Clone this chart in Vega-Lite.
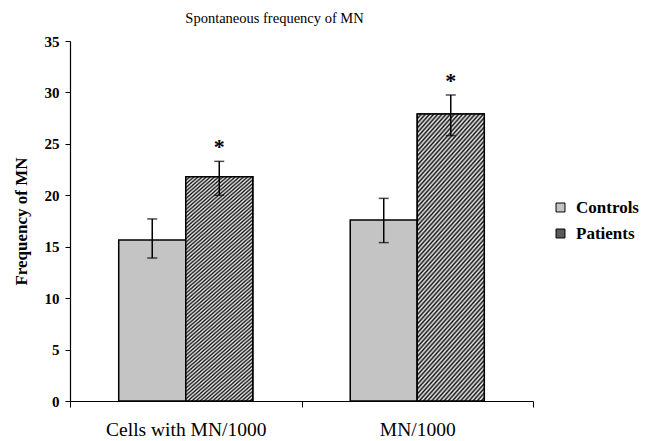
{
  "$schema": "https://vega.github.io/schema/vega-lite/v6.json",
  "width": 463,
  "height": 360,
  "autosize": {"type": "none"},
  "padding": {"left": 70, "top": 41, "right": 123, "bottom": 40},
  "background": "white",
  "title": {
    "text": "Spontaneous frequency of MN",
    "anchor": "middle",
    "dx": -27,
    "offset": 8
  },
  "config": {
    "view": {"stroke": null},
    "font": "Liberation Serif",
    "title": {"font": "Liberation Serif", "fontSize": 14.5, "fontWeight": "normal", "color": "black"},
    "axis": {"labelFont": "Liberation Serif", "titleFont": "Liberation Serif", "labelColor": "black", "titleColor": "black"},
    "legend": {"labelFont": "Liberation Serif", "titleFont": "Liberation Serif", "labelColor": "black"},
    "text": {"font": "Liberation Serif"}
  },
  "data": {
    "values": [
      {"cat": "Cells with MN/1000", "group": "Controls", "mean": 15.65, "lo": 13.9, "hi": 17.7, "star": ""},
      {"cat": "Cells with MN/1000", "group": "Patients", "mean": 21.8, "lo": 20.0, "hi": 23.3, "star": "*"},
      {"cat": "MN/1000", "group": "Controls", "mean": 17.6, "lo": 15.4, "hi": 19.7, "star": ""},
      {"cat": "MN/1000", "group": "Patients", "mean": 27.9, "lo": 25.8, "hi": 29.75, "star": "*"}
    ]
  },
  "encoding": {
    "x": {
      "field": "cat",
      "type": "nominal",
      "sort": null,
      "scale": {"paddingInner": 0, "paddingOuter": 0},
      "axis": {
        "title": null,
        "labelAngle": 0,
        "labelFont": "Liberation Serif",
        "labelFontSize": 19.5,
        "labelColor": "black",
        "labelPadding": 13,
        "domainColor": "black",
        "domainWidth": 1.2,
        "tickColor": "black",
        "tickBand": "extent",
        "tickSize": 6
      }
    },
    "xOffset": {
      "field": "group",
      "type": "nominal",
      "sort": ["Controls", "Patients"],
      "scale": {"paddingInner": 0, "paddingOuter": 0.727}
    }
  },
  "layer": [
    {
      "mark": {"type": "bar", "stroke": "black", "strokeWidth": 1.5},
      "encoding": {
        "y": {
          "field": "mean",
          "type": "quantitative",
          "scale": {"domain": [0, 35]},
          "axis": {
            "title": "Frequency of MN",
            "titleFont": "Liberation Serif",
            "titleFontSize": 17,
            "titleFontWeight": "bold",
            "titleColor": "black",
            "titlePadding": 14,
            "values": [0, 5, 10, 15, 20, 25, 30, 35],
            "labelFont": "Liberation Serif",
            "labelFontSize": 15,
            "labelFontWeight": "bold",
            "labelColor": "black",
            "labelPadding": 6,
            "grid": false,
            "domainColor": "black",
            "domainWidth": 1.2,
            "tickColor": "black",
            "tickSize": 5
          }
        },
        "color": {
          "field": "group",
          "type": "nominal",
          "scale": {"domain": ["Controls", "Patients"], "range": ["#c4c4c4", "#5a5a5a"]},
          "legend": {
            "title": null,
            "orient": "none",
            "legendX": 482,
            "legendY": 158,
            "symbolType": "square",
            "symbolSize": 80,
            "symbolStrokeColor": "black",
            "symbolStrokeWidth": 1,
            "labelFont": "Liberation Serif",
            "labelFontSize": 17,
            "labelFontWeight": "bold",
            "labelColor": "black",
            "rowPadding": 8,
            "labelOffset": 7
          }
        }
      }
    },
    {
      "transform": [{"filter": "datum.group === 'Patients'"}],
      "mark": {
        "type": "bar",
        "stroke": "black",
        "strokeWidth": 1.5,
        "fill": {
          "gradient": "linear",
          "x1": 0, "y1": 0, "x2": 1, "y2": 3.8,
          "stops": [
            {"offset": 0, "color": "#111"}, {"offset": 0.002, "color": "#eee"}, {"offset": 0.004, "color": "#111"}, {"offset": 0.006, "color": "#eee"}, {"offset": 0.008, "color": "#111"}, {"offset": 0.010, "color": "#eee"}, {"offset": 0.012, "color": "#111"}, {"offset": 0.014, "color": "#eee"}, {"offset": 0.016, "color": "#111"}, {"offset": 0.018, "color": "#eee"},
            {"offset": 0.020, "color": "#111"}, {"offset": 0.022, "color": "#eee"}, {"offset": 0.024, "color": "#111"}, {"offset": 0.026, "color": "#eee"}, {"offset": 0.028, "color": "#111"}, {"offset": 0.030, "color": "#eee"}, {"offset": 0.032, "color": "#111"}, {"offset": 0.034, "color": "#eee"}, {"offset": 0.036, "color": "#111"}, {"offset": 0.038, "color": "#eee"},
            {"offset": 0.040, "color": "#111"}, {"offset": 0.042, "color": "#eee"}, {"offset": 0.044, "color": "#111"}, {"offset": 0.046, "color": "#eee"}, {"offset": 0.048, "color": "#111"}, {"offset": 0.050, "color": "#eee"}, {"offset": 0.052, "color": "#111"}, {"offset": 0.054, "color": "#eee"}, {"offset": 0.056, "color": "#111"}, {"offset": 0.058, "color": "#eee"},
            {"offset": 0.060, "color": "#111"}, {"offset": 0.062, "color": "#eee"}, {"offset": 0.064, "color": "#111"}, {"offset": 0.066, "color": "#eee"}, {"offset": 0.068, "color": "#111"}, {"offset": 0.070, "color": "#eee"}, {"offset": 0.072, "color": "#111"}, {"offset": 0.074, "color": "#eee"}, {"offset": 0.076, "color": "#111"}, {"offset": 0.078, "color": "#eee"},
            {"offset": 0.080, "color": "#111"}, {"offset": 0.082, "color": "#eee"}, {"offset": 0.084, "color": "#111"}, {"offset": 0.086, "color": "#eee"}, {"offset": 0.088, "color": "#111"}, {"offset": 0.090, "color": "#eee"}, {"offset": 0.092, "color": "#111"}, {"offset": 0.094, "color": "#eee"}, {"offset": 0.096, "color": "#111"}, {"offset": 0.098, "color": "#eee"},
            {"offset": 0.100, "color": "#111"}, {"offset": 0.102, "color": "#eee"}, {"offset": 0.104, "color": "#111"}, {"offset": 0.106, "color": "#eee"}, {"offset": 0.108, "color": "#111"}, {"offset": 0.110, "color": "#eee"}, {"offset": 0.112, "color": "#111"}, {"offset": 0.114, "color": "#eee"}, {"offset": 0.116, "color": "#111"}, {"offset": 0.118, "color": "#eee"},
            {"offset": 0.120, "color": "#111"}, {"offset": 0.122, "color": "#eee"}, {"offset": 0.124, "color": "#111"}, {"offset": 0.126, "color": "#eee"}, {"offset": 0.128, "color": "#111"}, {"offset": 0.130, "color": "#eee"}, {"offset": 0.132, "color": "#111"}, {"offset": 0.134, "color": "#eee"}, {"offset": 0.136, "color": "#111"}, {"offset": 0.138, "color": "#eee"},
            {"offset": 0.140, "color": "#111"}, {"offset": 0.142, "color": "#eee"}, {"offset": 0.144, "color": "#111"}, {"offset": 0.146, "color": "#eee"}, {"offset": 0.148, "color": "#111"}, {"offset": 0.150, "color": "#eee"}, {"offset": 0.152, "color": "#111"}, {"offset": 0.154, "color": "#eee"}, {"offset": 0.156, "color": "#111"}, {"offset": 0.158, "color": "#eee"},
            {"offset": 0.160, "color": "#111"}, {"offset": 0.162, "color": "#eee"}, {"offset": 0.164, "color": "#111"}, {"offset": 0.166, "color": "#eee"}, {"offset": 0.168, "color": "#111"}, {"offset": 0.170, "color": "#eee"}, {"offset": 0.172, "color": "#111"}, {"offset": 0.174, "color": "#eee"}, {"offset": 0.176, "color": "#111"}, {"offset": 0.178, "color": "#eee"},
            {"offset": 0.180, "color": "#111"}, {"offset": 0.182, "color": "#eee"}, {"offset": 0.184, "color": "#111"}, {"offset": 0.186, "color": "#eee"}, {"offset": 0.188, "color": "#111"}, {"offset": 0.190, "color": "#eee"}, {"offset": 0.192, "color": "#111"}, {"offset": 0.194, "color": "#eee"}, {"offset": 0.196, "color": "#111"}, {"offset": 0.198, "color": "#eee"},
            {"offset": 0.200, "color": "#111"}, {"offset": 0.202, "color": "#eee"}, {"offset": 0.204, "color": "#111"}, {"offset": 0.206, "color": "#eee"}, {"offset": 0.208, "color": "#111"}, {"offset": 0.210, "color": "#eee"}, {"offset": 0.212, "color": "#111"}, {"offset": 0.214, "color": "#eee"}, {"offset": 0.216, "color": "#111"}, {"offset": 0.218, "color": "#eee"},
            {"offset": 0.220, "color": "#111"}, {"offset": 0.222, "color": "#eee"}, {"offset": 0.224, "color": "#111"}, {"offset": 0.226, "color": "#eee"}, {"offset": 0.228, "color": "#111"}, {"offset": 0.230, "color": "#eee"}, {"offset": 0.232, "color": "#111"}, {"offset": 0.234, "color": "#eee"}, {"offset": 0.236, "color": "#111"}, {"offset": 0.238, "color": "#eee"},
            {"offset": 0.240, "color": "#111"}, {"offset": 0.242, "color": "#eee"}, {"offset": 0.244, "color": "#111"}, {"offset": 0.246, "color": "#eee"}, {"offset": 0.248, "color": "#111"}, {"offset": 0.250, "color": "#eee"}, {"offset": 0.252, "color": "#111"}, {"offset": 0.254, "color": "#eee"}, {"offset": 0.256, "color": "#111"}, {"offset": 0.258, "color": "#eee"},
            {"offset": 0.260, "color": "#111"}, {"offset": 0.262, "color": "#eee"}, {"offset": 0.264, "color": "#111"}, {"offset": 0.266, "color": "#eee"}, {"offset": 0.268, "color": "#111"}, {"offset": 0.270, "color": "#eee"}, {"offset": 0.272, "color": "#111"}, {"offset": 0.274, "color": "#eee"}, {"offset": 0.276, "color": "#111"}, {"offset": 0.278, "color": "#eee"},
            {"offset": 0.280, "color": "#111"}, {"offset": 0.282, "color": "#eee"}, {"offset": 0.284, "color": "#111"}, {"offset": 0.286, "color": "#eee"}, {"offset": 0.288, "color": "#111"}, {"offset": 0.290, "color": "#eee"}, {"offset": 0.292, "color": "#111"}, {"offset": 0.294, "color": "#eee"}, {"offset": 0.296, "color": "#111"}, {"offset": 0.298, "color": "#eee"},
            {"offset": 0.300, "color": "#111"}, {"offset": 0.302, "color": "#eee"}, {"offset": 0.304, "color": "#111"}, {"offset": 0.306, "color": "#eee"}, {"offset": 0.308, "color": "#111"}, {"offset": 0.310, "color": "#eee"}, {"offset": 0.312, "color": "#111"}, {"offset": 0.314, "color": "#eee"}, {"offset": 0.316, "color": "#111"}, {"offset": 0.318, "color": "#eee"},
            {"offset": 0.320, "color": "#111"}
          ]
        }
      },
      "encoding": {
        "y": {"field": "mean", "type": "quantitative"}
      }
    },
    {
      "mark": {"type": "rule", "color": "black", "strokeWidth": 1.5},
      "encoding": {
        "y": {"field": "lo", "type": "quantitative"},
        "y2": {"field": "hi"}
      }
    },
    {
      "mark": {"type": "tick", "color": "black", "thickness": 1.5, "size": 10, "orient": "horizontal"},
      "encoding": {
        "y": {"field": "hi", "type": "quantitative"}
      }
    },
    {
      "mark": {"type": "tick", "color": "black", "thickness": 1.5, "size": 10, "orient": "horizontal"},
      "encoding": {
        "y": {"field": "lo", "type": "quantitative"}
      }
    },
    {
      "mark": {"type": "text", "font": "Liberation Serif", "fontSize": 22, "fontWeight": "bold", "baseline": "middle", "dy": -14, "color": "black"},
      "encoding": {
        "y": {"field": "hi", "type": "quantitative"},
        "text": {"field": "star"}
      }
    }
  ]
}
